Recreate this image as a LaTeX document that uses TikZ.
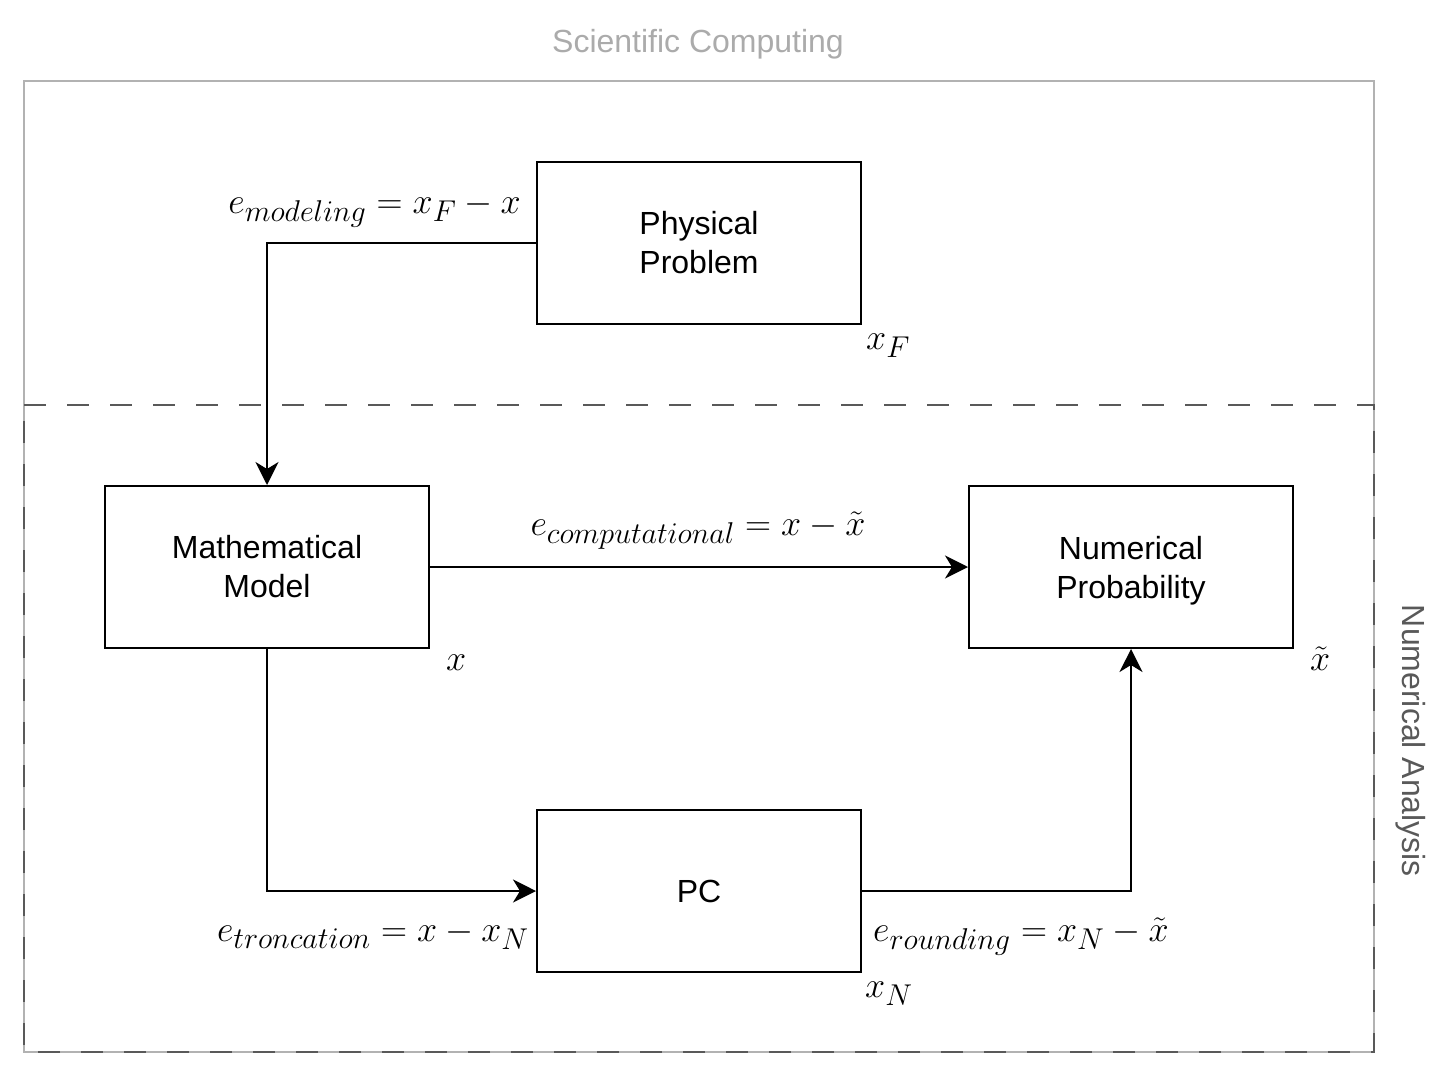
\documentclass[tikz,border=0pt]{standalone}
\usepackage{graphicx}
\usepackage{fontspec}
\setmainfont{Liberation Sans}
\usetikzlibrary{arrows.meta}
\newcommand{\mylblmath}[1]{\scalebox{1.45}{$#1$}}
\begin{document}
\begin{tikzpicture}[x=1pt,y=-1pt,
  box/.style={draw=black,line width=2pt,minimum width=324pt,minimum height=162pt,align=center,
    font=\fontsize{32}{39}\selectfont,inner sep=0pt},
  conn/.style={line width=2pt,-{Stealth[length=23pt,width=23pt,inset=7pt]}},
  lbl/.style={font=\fontsize{32}{38}\selectfont,inner sep=0pt},
  mlbl/.style={font=\fontsize{30}{36}\selectfont,inner sep=0pt}
]
\useasboundingbox (0,0) rectangle (1450,1076);
% outer frames
\draw[draw=black!30,line width=2pt] (24,81) rectangle (1374,1052);
\draw[draw=black!65,line width=2.5pt,dash pattern=on 22pt off 21pt] (24,405) -- (1374,405) -- (1374,1052) -- (24,1052) -- cycle;
\node[lbl,text=black!33] (sc) at (698,44) {Scientific Computing};
\node[lbl,text=black!65,rotate=-90] (na) at (1411,741) {Numerical Analysis};
% boxes
\node[box] (phys) at (699,243) {Physical\\Problem};
\node[box] (math) at (267,567) {Mathematical\\Model};
\node[box] (num) at (1131,567) {Numerical\\\raisebox{0pt}[\height][0pt]{Probability}};
\node[box] (pc) at (699,891) {PC};
% connectors
\draw[conn] (phys.west) -| (math.north);
\draw[conn] (math.east) -- (num.west);
\draw[conn] (math.south) |- (pc.west);
\draw[conn] (pc.east) -| (num.south);
% labels
\node[mlbl,anchor=base east] (lm) at (521,213) {\mylblmath{e_{modeling}=x_F-x}};
\node[mlbl,anchor=base] (lc) at (698,535) {\mylblmath{e_{computational}=x-\tilde{x}}};
\node[mlbl,anchor=base east] (lt) at (529,941) {\mylblmath{e_{troncation}=x-x_N}};
\node[mlbl,anchor=base west] (lr) at (873,941) {\mylblmath{e_{rounding}=x_N-\tilde{x}}};
\node[mlbl,anchor=base west] (xf) at (866,349) {\mylblmath{x_F}};
\node[mlbl,anchor=base west] (xx) at (446,670) {\mylblmath{x}};
\node[mlbl,anchor=base west] (xt) at (1310,670) {\mylblmath{\tilde{x}}};
\node[mlbl,anchor=base west] (xn) at (865,997) {\mylblmath{x_N}};
\end{tikzpicture}
\end{document}
